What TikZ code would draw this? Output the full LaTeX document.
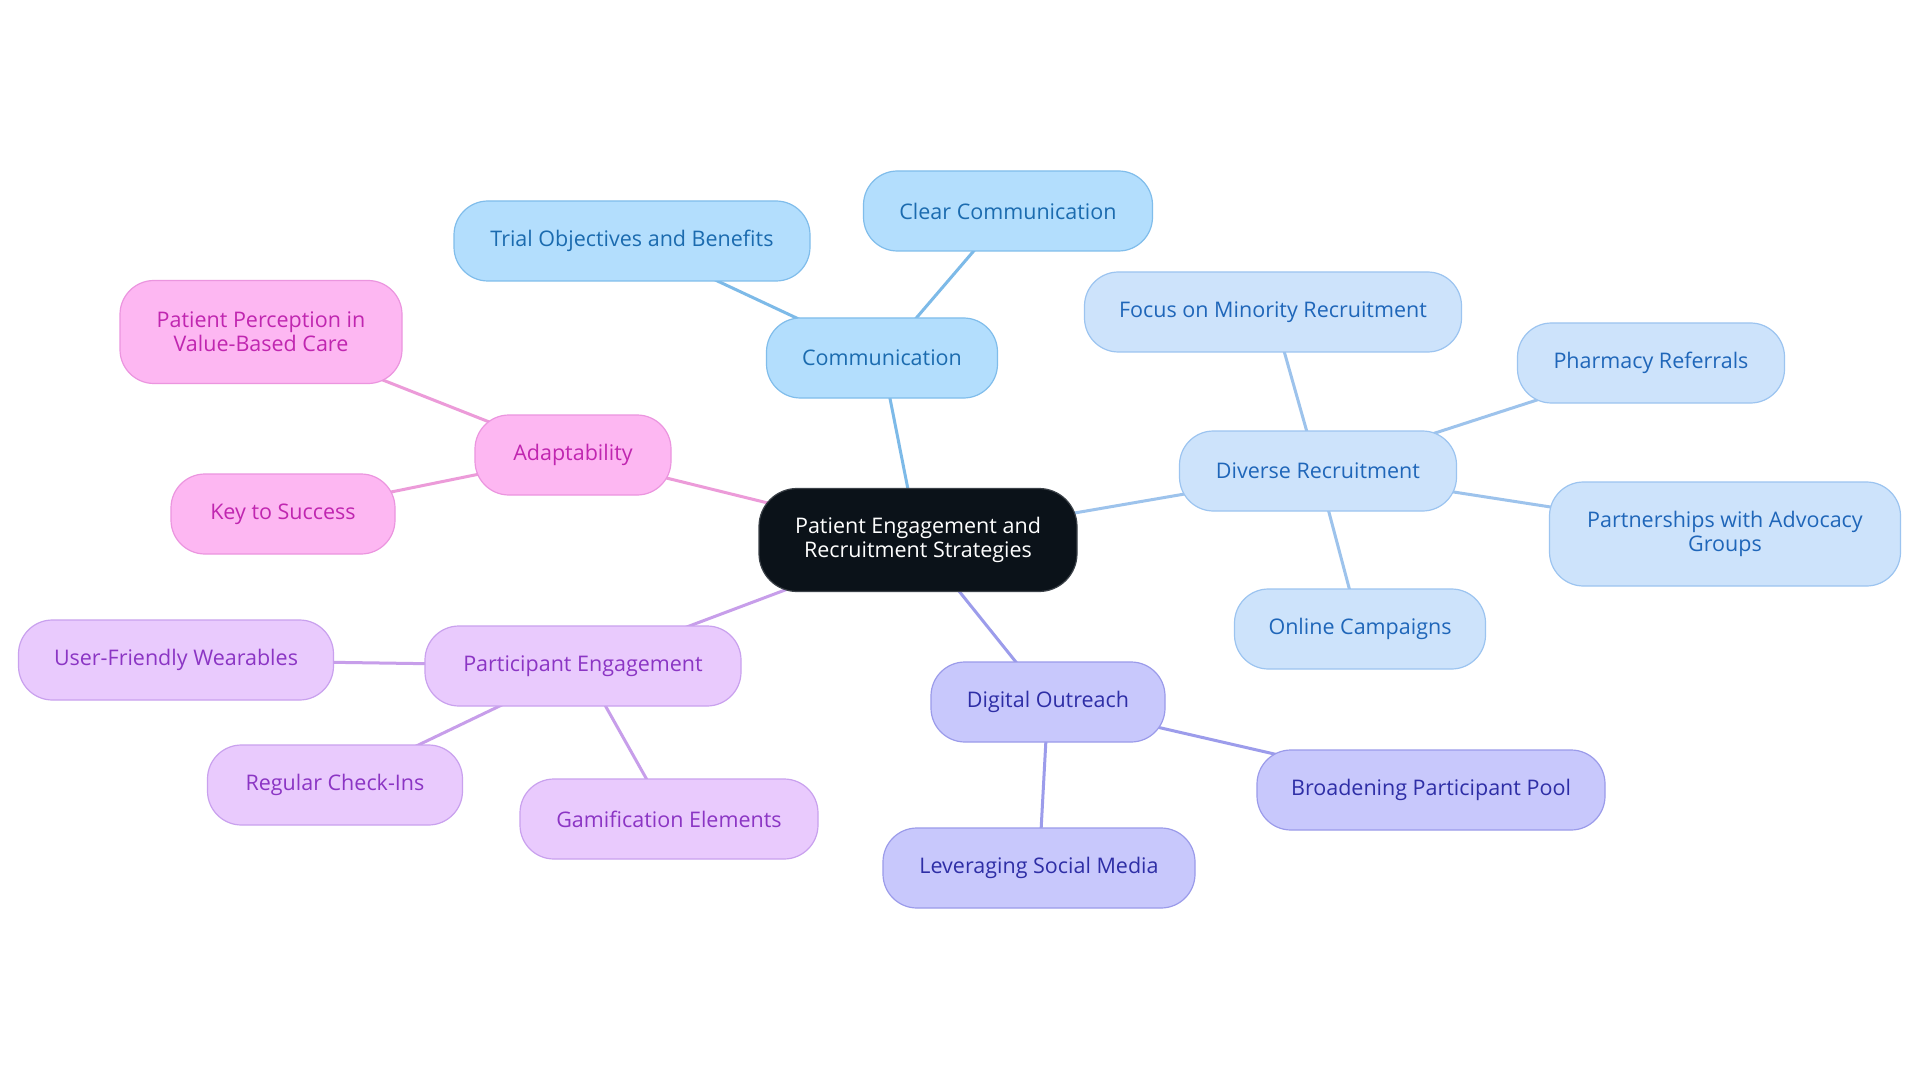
\documentclass[tikz,border=0pt]{standalone}
\usepackage{fontspec}
\setmainfont{Open Sans}
\usetikzlibrary{backgrounds}
\definecolor{rootfill}{HTML}{0B1219}
\definecolor{rootdraw}{HTML}{3B4148}
\definecolor{commfill}{HTML}{B3DEFD}
\definecolor{commdraw}{HTML}{80BDEB}
\definecolor{commtext}{HTML}{1B6BAF}
\definecolor{commline}{HTML}{7DBAE8}
\definecolor{divfill}{HTML}{CDE3FB}
\definecolor{divdraw}{HTML}{9CC4F0}
\definecolor{divtext}{HTML}{1F66B9}
\definecolor{divline}{HTML}{9DC3EC}
\definecolor{digfill}{HTML}{C8C8FC}
\definecolor{digdraw}{HTML}{9B9BEA}
\definecolor{digtext}{HTML}{2E2EA6}
\definecolor{digline}{HTML}{9C9CEB}
\definecolor{partfill}{HTML}{E9CAFD}
\definecolor{partdraw}{HTML}{C9A1EE}
\definecolor{parttext}{HTML}{8B35C4}
\definecolor{partline}{HTML}{C79EEA}
\definecolor{adapfill}{HTML}{FDB7F2}
\definecolor{adapdraw}{HTML}{EB95DF}
\definecolor{adaptext}{HTML}{C026B0}
\definecolor{adapline}{HTML}{EC9BD9}
\begin{document}
\begin{tikzpicture}[x=1pt,y=-1pt,
  box/.style={draw, line width=1.2pt, rounded corners=34pt, minimum height=80pt, inner sep=0pt, align=center, font=\fontsize{21.5}{24}\selectfont},
  rootbox/.style={box, fill=rootfill, draw=rootdraw, text=white, rounded corners=38pt, minimum height=103pt, minimum width=318pt},
  commbox/.style={box, fill=commfill, draw=commdraw, text=commtext},
  divbox/.style={box, fill=divfill, draw=divdraw, text=divtext},
  digbox/.style={box, fill=digfill, draw=digdraw, text=digtext},
  partbox/.style={box, fill=partfill, draw=partdraw, text=parttext},
  adapbox/.style={box, fill=adapfill, draw=adapdraw, text=adaptext},
  link/.style={line width=3pt}
]
\path[use as bounding box] (0,0) rectangle (1920,1083);

\node[rootbox] (root) at (918,540) {Patient Engagement and\\Recruitment Strategies};

\node[commbox, minimum width=231pt] (comm) at (882,358) {Communication};
\node[commbox, minimum width=289pt] (clear) at (1008,211) {Clear Communication};
\node[commbox, minimum width=356pt] (trial) at (632,241) {Trial Objectives and Benefits};

\node[divbox, minimum width=277pt] (div) at (1318,471) {Diverse Recruitment};
\node[divbox, minimum width=377pt] (focus) at (1273,312) {Focus on Minority Recruitment};
\node[divbox, minimum width=267pt] (pharm) at (1651,363) {Pharmacy Referrals};
\node[divbox, minimum width=351pt, minimum height=104pt] (partn) at (1725,534) {Partnerships with Advocacy\\Groups};
\node[divbox, minimum width=251pt] (online) at (1360,629) {Online Campaigns};

\node[digbox, minimum width=234pt] (digital) at (1048,702) {Digital Outreach};
\node[digbox, minimum width=348pt] (broad) at (1431,790) {Broadening Participant Pool};
\node[digbox, minimum width=312pt] (lever) at (1039,868) {Leveraging Social Media};

\node[partbox, minimum width=316pt] (part) at (583,666) {Participant Engagement};
\node[partbox, minimum width=315pt] (user) at (176,660) {User-Friendly Wearables};
\node[partbox, minimum width=255pt] (regular) at (335,785) {Regular Check-Ins};
\node[partbox, minimum width=298pt] (gam) at (669,819) {Gamification Elements};

\node[adapbox, minimum width=196pt] (adapt) at (573,455) {Adaptability};
\node[adapbox, minimum width=282pt, minimum height=103pt] (perc) at (261,332) {Patient Perception in\\Value-Based Care};
\node[adapbox, minimum width=224pt] (key) at (283,514) {Key to Success};

\begin{pgfonlayer}{background}
\fill[white] (0,0) rectangle (1920,1083);
\draw[link, commline] (root.center) -- (comm.center);
\draw[link, commline] (comm.center) -- (clear.center);
\draw[link, commline] (comm.center) -- (trial.center);
\draw[link, divline] (root.center) -- (div.center);
\draw[link, divline] (div.center) -- (focus.center);
\draw[link, divline] (div.center) -- (pharm.center);
\draw[link, divline] (div.center) -- (partn.center);
\draw[link, divline] (div.center) -- (online.center);
\draw[link, digline] (root.center) -- (digital.center);
\draw[link, digline] (digital.center) -- (broad.center);
\draw[link, digline] (digital.center) -- (lever.center);
\draw[link, partline] (root.center) -- (part.center);
\draw[link, partline] (part.center) -- (user.center);
\draw[link, partline] (part.center) -- (regular.center);
\draw[link, partline] (part.center) -- (gam.center);
\draw[link, adapline] (root.center) -- (adapt.center);
\draw[link, adapline] (adapt.center) -- (perc.center);
\draw[link, adapline] (adapt.center) -- (key.center);
\end{pgfonlayer}
\end{tikzpicture}
\end{document}
